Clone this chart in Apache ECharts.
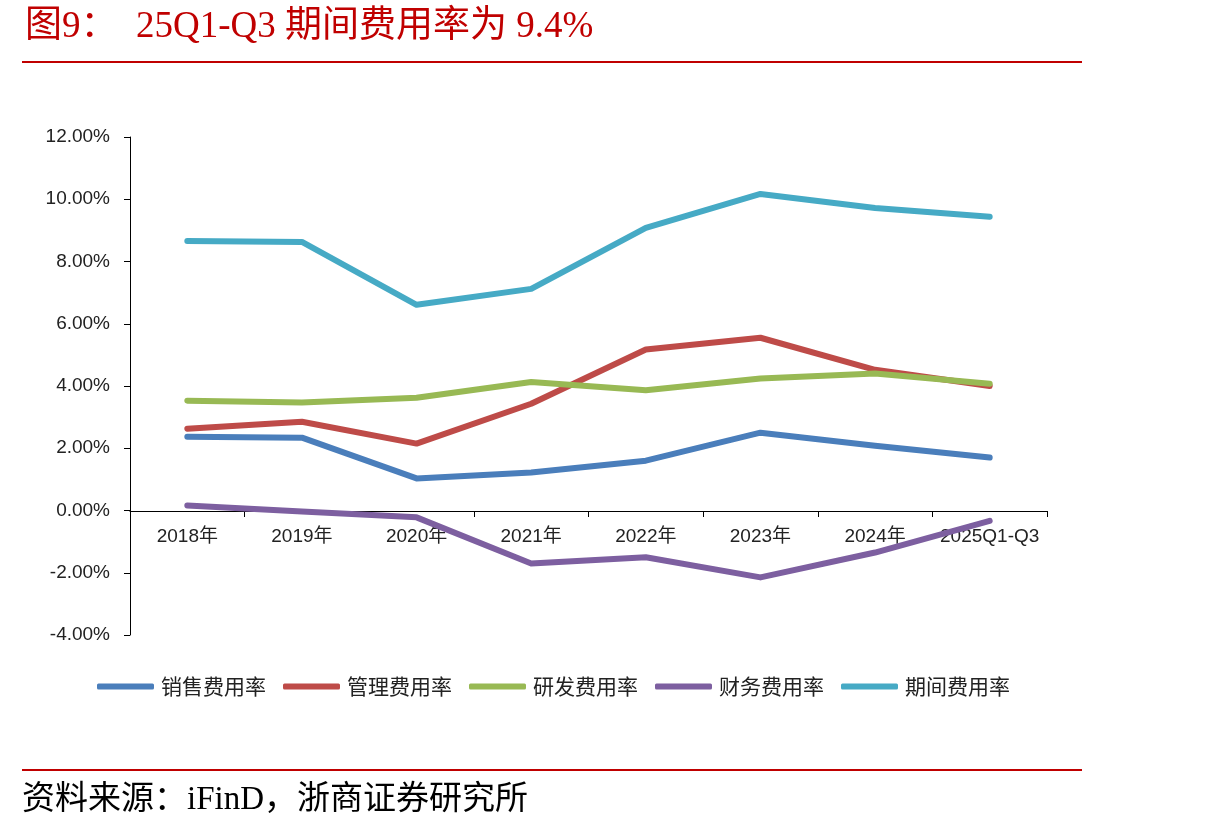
<!DOCTYPE html>
<html><head><meta charset="utf-8">
<script src="https://cdn.jsdelivr.net/npm/echarts@6/dist/echarts.min.js"></script>
<style>html,body{margin:0;padding:0;background:#fff}#c{width:1210px;height:838px}</style>
</head><body><div id="c"></div>
<script>
const categories = ['2018年','2019年','2020年','2021年','2022年','2023年','2024年','2025Q1-Q3'];
const sales   = [2.37, 2.34, 1.03, 1.22, 1.60, 2.50, 2.08, 1.70];
const admin   = [2.63, 2.85, 2.15, 3.43, 5.17, 5.55, 4.52, 4.00];
const rnd     = [3.53, 3.47, 3.62, 4.13, 3.86, 4.24, 4.40, 4.07];
const finance = [0.16, -0.03, -0.22, -1.70, -1.50, -2.15, -1.35, -0.33];
const period  = [8.66, 8.63, 6.61, 7.12, 9.08, 10.17, 9.72, 9.44];
const seriesNames = ['销售费用率','管理费用率','研发费用率','财务费用率','期间费用率'];
const colors = ['#4A7EBB','#BE4B48','#98B954','#7D5FA0','#46AAC5'];

const chart = echarts.init(document.getElementById('c'));
const dataSets = [sales, admin, rnd, finance, period];
chart.setOption({
  animation: false,
  color: colors,
  title: {
    text: '图9：  25Q1-Q3 期间费用率为 9.4%',
    left: 20, top: 4,
    textStyle: {color: '#C00000', fontSize: 37, fontWeight: 'normal', fontFamily: '"Liberation Serif","Noto Sans CJK SC",serif'}
  },
  graphic: [
    {type: 'line', shape: {x1: 22, y1: 62, x2: 1082, y2: 62}, style: {stroke: '#C00000', lineWidth: 2}},
    {type: 'line', shape: {x1: 22, y1: 770, x2: 1082, y2: 770}, style: {stroke: '#C00000', lineWidth: 2}},
    {type: 'text', left: 22, top: 784, style: {text: '资料来源：iFinD，浙商证券研究所', fill: '#000', font: '33px "Liberation Serif","Noto Sans CJK SC",serif'}}
  ],
  legend: {
    bottom: 136, left: 92,
    itemWidth: 57, itemHeight: 6, itemGap: 17,
    icon: 'roundRect',
    textStyle: {fontSize: 21, color: '#222', fontFamily: '"Noto Sans CJK SC",sans-serif', padding: [0, 0, 0, 2]},
    data: seriesNames
  },
  grid: {left: 130, right: 163, top: 137, bottom: 203},
  xAxis: {
    type: 'category', data: categories, boundaryGap: true,
    offset: -124,
    axisLine: {onZero: false, lineStyle: {color: '#000', width: 1}},
    axisTick: {show: true, length: 6, lineStyle: {color: '#000'}},
    axisLabel: {color: '#222', fontSize: 19, margin: 16, fontFamily: 'Arial,"Liberation Sans","Noto Sans CJK SC",sans-serif', interval: 0}
  },
  yAxis: {
    type: 'value', min: -4, max: 12, interval: 2,
    axisLine: {show: true, lineStyle: {color: '#000'}},
    axisTick: {show: true, length: 6, lineStyle: {color: '#000'}},
    splitLine: {show: false},
    axisLabel: {color: '#222', fontSize: 19, margin: 20, fontFamily: 'Arial,"Liberation Sans",sans-serif', formatter: v => v.toFixed(2) + '%'}
  },
  series: seriesNames.map((n, i) => ({
    name: n, type: 'line', data: dataSets[i], symbol: 'none',
    lineStyle: {width: 6, color: colors[i], cap: 'round', join: 'round'},
    itemStyle: {color: colors[i]}
  }))
});
</script></body></html>
